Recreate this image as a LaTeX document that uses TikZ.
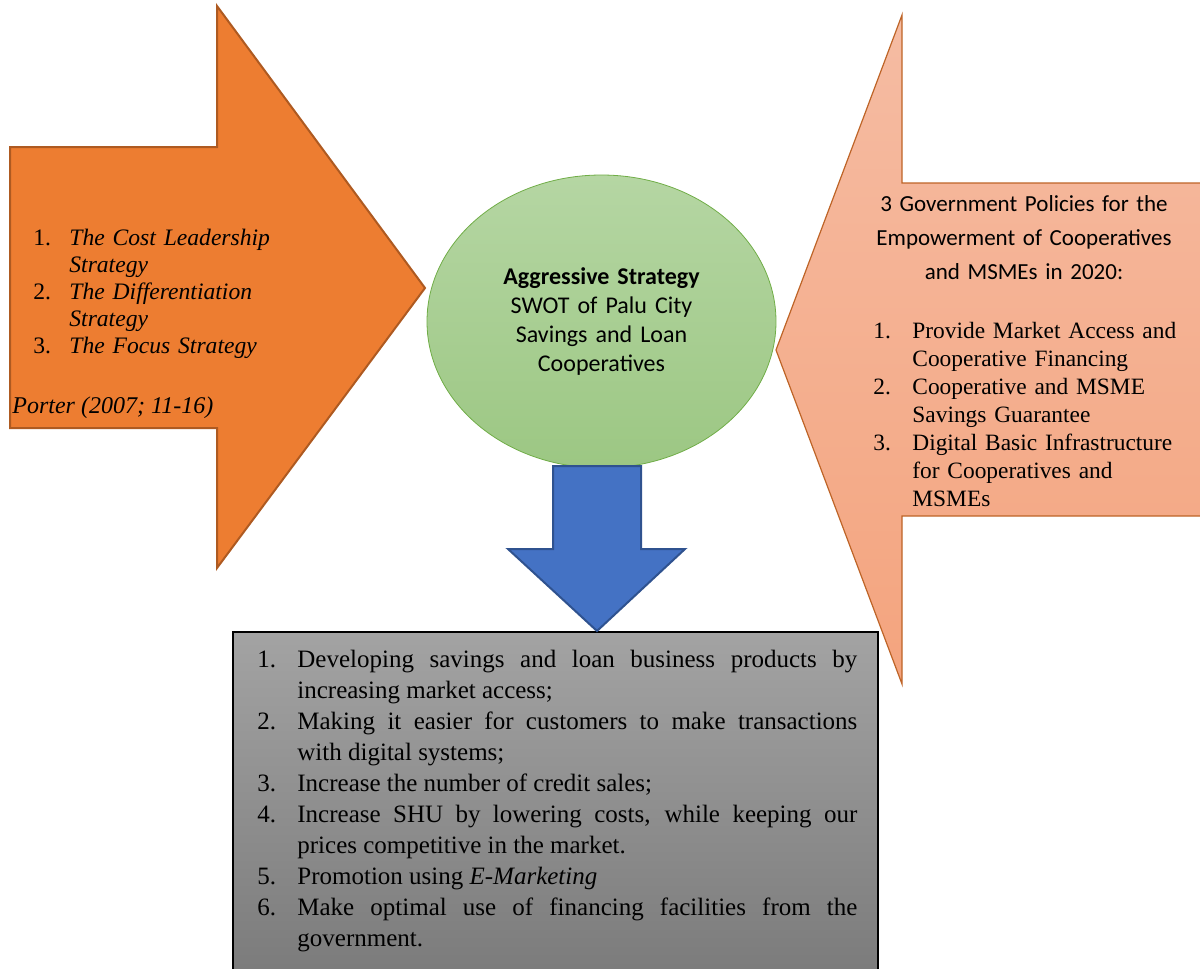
\documentclass[tikz,border=0pt]{standalone}
\usepackage{fontspec}
\setmainfont{Liberation Serif}
\newfontfamily\calibri{Carlito}
\usetikzlibrary{shapes.geometric}

\definecolor{orangefill}{RGB}{237,125,49}
\definecolor{orangeline}{RGB}{174,90,33}
\definecolor{salmontop}{RGB}{245,188,163}
\definecolor{salmonbot}{RGB}{244,164,126}
\definecolor{greentop}{RGB}{181,214,163}
\definecolor{greenbot}{RGB}{156,199,131}
\definecolor{greenline}{RGB}{112,173,71}
\definecolor{bluefill}{RGB}{68,114,196}
\definecolor{blueline}{RGB}{47,82,143}
\definecolor{graytop}{RGB}{163,163,163}
\definecolor{graybot}{RGB}{122,122,122}

% numbered line with hanging indent
\newcommand{\hitem}[3]{\hangindent=#1\hangafter=1\noindent\makebox[#1][l]{#2}#3\par}

\begin{document}
\begin{tikzpicture}[x=0.5pt,y=-0.5pt,
            blockarrow/.style={line join=miter,line width=1pt},
            txt/.style={inner sep=0,anchor=base west,align=left},
            swotcircle/.style={ellipse,draw=greenline,top color=greentop,bottom color=greenbot,
                minimum width=174.5pt,minimum height=146.5pt,inner sep=0,text width=112pt,align=center}
          ]
          \useasboundingbox (0,0) rectangle (1200,969);

          %arrows
          \draw[blockarrow,draw=orangefill!80!black,top color=salmontop,bottom color=salmonbot,line width=0.6pt]
            (1206,183) -- (902,183) -- (902,15) -- (776,350) -- (902,684) -- (902,516) -- (1206,516);
          \draw[blockarrow,draw=orangeline,fill=orangefill]
            (10,147) -- (217,147) -- (217,6) -- (425,288) -- (217,568) -- (217,428) -- (10,428) -- cycle;

          %centre
          \node[swotcircle,font=\calibri\fontsize{12}{14.5}\selectfont] (swot) at (601.5,321.5)
            {\textbf{Aggressive Strategy}\\SWOT of Palu City\\Savings and Loan\\Cooperatives};

          %result box
          \draw[line width=1pt,top color=graytop,bottom color=graybot] (233,632) rectangle (878,985);
          \draw[blockarrow,draw=blueline,fill=bluefill]
            (553,466) -- (641,466) -- (641,549) -- (685,549) -- (597,631) -- (508,549) -- (553,549) -- cycle;

          %labels
          \node[txt,text width=125pt,font=\fontsize{11.8}{13.5}\selectfont\itshape] (strategies) at (33,245)
            {\hitem{18pt}{\upshape 1.}{The Cost Leadership\newline Strategy}%
             \hitem{18pt}{\upshape 2.}{The Differentiation\newline Strategy}%
             \hitem{18pt}{\upshape 3.}{The Focus Strategy}};
          \node[txt,font=\fontsize{12}{13.5}\selectfont\itshape] (porter) at (12,413) {Porter (2007; 11-16)};

          \node[anchor=base,inner sep=0,text width=170pt,align=center,font=\calibri\fontsize{11.5}{17}\selectfont]
            (policyhead) at (1024,211)
            {3 Government Policies for the\\Empowerment of Cooperatives\\and MSMEs in 2020:};
          \node[txt,text width=160pt,font=\fontsize{11.7}{14}\selectfont] (policies) at (873,338)
            {\hitem{19.5pt}{1.}{Provide Market Access and\newline Cooperative Financing}%
             \hitem{19.5pt}{2.}{Cooperative and MSME\newline Savings Guarantee}%
             \hitem{19.5pt}{3.}{Digital Basic Infrastructure\newline for Cooperatives and\newline MSMEs}};

          \node[inner sep=0,anchor=base west,text width=300pt,align=justify,font=\fontsize{12.5}{15.5}\selectfont]
            (actions) at (257,667)
            {\tolerance=9999\hbadness=10000
             \hitem{20pt}{1.}{Developing savings and loan business products by\linebreak increasing market access;}%
             \hitem{20pt}{2.}{Making it easier for customers to make transactions\linebreak with digital systems;}%
             \hitem{20pt}{3.}{Increase the number of credit sales;}%
             \hitem{20pt}{4.}{Increase SHU by lowering costs, while keeping our\linebreak prices competitive in the market.}%
             \hitem{20pt}{5.}{Promotion using \textit{E-Marketing}}%
             \hitem{20pt}{6.}{Make optimal use of financing facilities from the\linebreak government.}};

      \end{tikzpicture}
\end{document}
